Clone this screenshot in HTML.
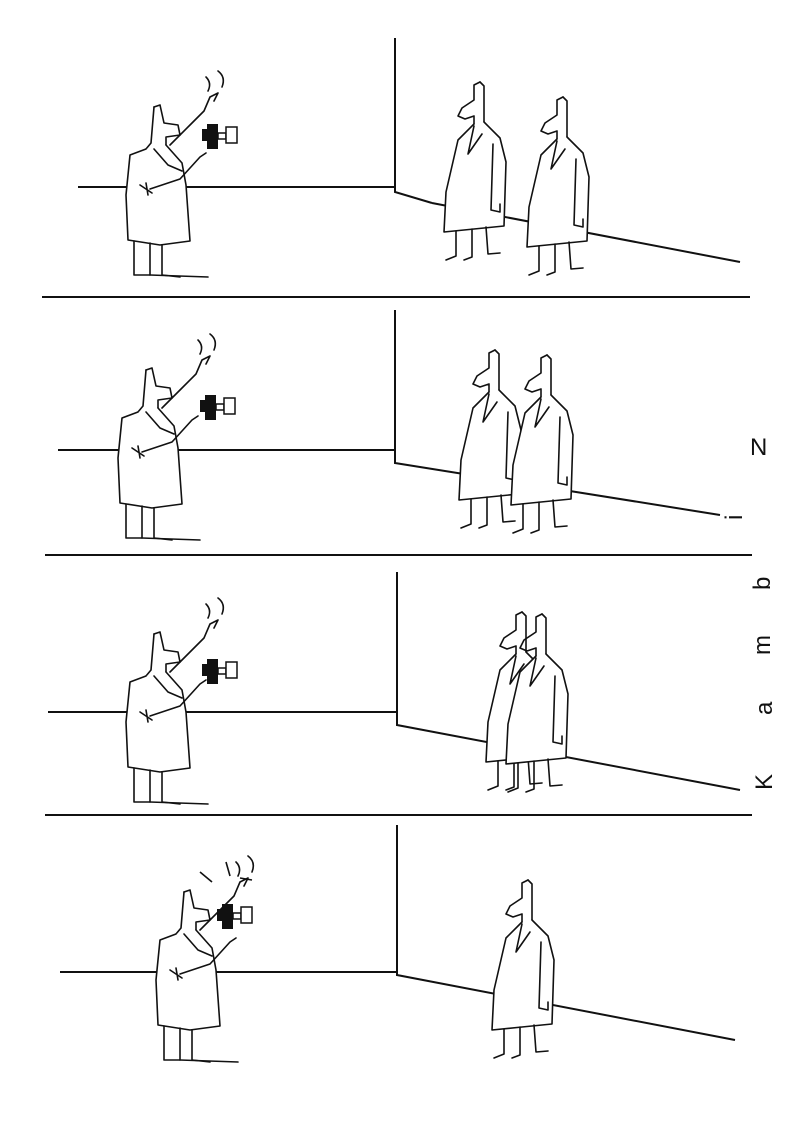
<!DOCTYPE html>
<html><head><style>
html,body{margin:0;padding:0;background:#fff;}
svg{display:block;}
text{font-family:"Liberation Sans",sans-serif;}
</style></head><body>
<svg width="800" height="1131" viewBox="0 0 800 1131" xmlns="http://www.w3.org/2000/svg">
<defs>
<g id="man" fill="none" stroke="#111" stroke-width="1.6" stroke-linejoin="round" stroke-linecap="round">
  <path d="M0,0 L-6,3 L-6,18 L-18,26 L-22,34 L-15,37 L-6,34 L-6,42"/>
  <path d="M0,0 L4,4 L4,40"/>
  <path d="M-6,42 L-22,58 L-34,110 L-36,150 L-6,147 L24,144 L26,80 L20,56 L4,40" fill="#fff"/>
  <path d="M-6,44 L-12,72 L2,52"/>
  <path d="M13,62 L11,128 L20,130 L20,122"/>
  <path d="M-24,149 L-24,174 L-34,178"/>
  <path d="M-8,147 L-8,175 L-16,178"/>
  <path d="M6,145 L8,172 L20,171"/>
</g>
<g id="photog" fill="none" stroke="#111" stroke-width="1.6" stroke-linejoin="round" stroke-linecap="round">
  <path d="M-6,2 L-9,38 L-14,44"/>
  <path d="M-6,2 L0,0 L4,18 L18,20 L20,30 L6,32 L6,40"/>
  <path d="M-14,44 L-30,50 L-34,90 L-32,135 L0,140 L30,136 L26,80 L22,58 L6,40" fill="#fff"/>
  <path d="M-6,44 L8,60 L22,66"/>
  <path d="M-20,80 L-8,88 M-14,78 L-12,90"/>
  <path d="M-10,84 L20,74 L40,52 L46,48"/>
  <path d="M10,40 L30,20 L44,6 L50,-8 L58,-12 L54,-4"/>
  <path d="M-26,136 L-26,170 L-10,170 L-10,138"/>
  <path d="M2,140 L2,170 L20,172"/>
  <path d="M-10,170 L48,172"/>
  <path d="M46,-28 Q52,-22 48,-14 M58,-34 Q66,-28 62,-18"/>
</g>
<g id="camera">
  <rect x="0" y="0" width="11" height="25" fill="#111"/>
  <rect x="-5" y="5" width="7" height="12" fill="#111"/>
  <rect x="11" y="9" width="8" height="6" fill="none" stroke="#111" stroke-width="1.5"/>
  <rect x="19" y="3" width="11" height="16" fill="#fff" stroke="#111" stroke-width="1.5"/>
</g>
</defs>
<g stroke="#111" stroke-width="2" fill="none">
  <line x1="42" y1="297" x2="750" y2="297"/>
  <line x1="45" y1="555" x2="752" y2="555"/>
  <line x1="45" y1="815" x2="752" y2="815"/>
  <line x1="78" y1="187" x2="395" y2="187"/>
  <path d="M395,38 L395,192 L432,203"/>
  <line x1="432" y1="203" x2="740" y2="262"/>
  <line x1="58" y1="450" x2="395" y2="450"/>
  <path d="M395,310 L395,463 L720,515"/>
  <line x1="48" y1="712" x2="397" y2="712"/>
  <path d="M397,572 L397,725 L740,790"/>
  <line x1="60" y1="972" x2="397" y2="972"/>
  <path d="M397,825 L397,975 L735,1040"/>
</g>
<use href="#man" x="480" y="82"/>
<use href="#man" x="563" y="97"/>
<use href="#photog" x="160" y="105"/>
<use href="#camera" x="207" y="124"/>
<use href="#man" x="495" y="350"/>
<use href="#man" x="547" y="355"/>
<use href="#photog" x="152" y="368"/>
<use href="#camera" x="205" y="395"/>
<use href="#man" x="522" y="612"/>
<use href="#man" x="542" y="614"/>
<use href="#photog" x="160" y="632"/>
<use href="#camera" x="207" y="659"/>
<use href="#man" x="528" y="880"/>
<use href="#photog" x="190" y="890"/>
<use href="#camera" x="222" y="904"/>
<g stroke="#111" stroke-width="1.6" fill="none">
  <path d="M200,872 L212,882 M226,862 L230,876 M240,878 L252,880"/>
</g>
<g font-size="24" fill="#111">
  <text x="750" y="455">N</text>
  <text x="0" y="0" transform="translate(742,520) rotate(-90)">i</text>
  <text x="0" y="0" transform="translate(770,590) rotate(-90)">b</text>
  <text x="0" y="0" transform="translate(770,655) rotate(-90)">m</text>
  <text x="0" y="0" transform="translate(772,715) rotate(-90)">a</text>
  <text x="0" y="0" transform="translate(772,790) rotate(-90)">K</text>
</g>
</svg>
</body></html>
